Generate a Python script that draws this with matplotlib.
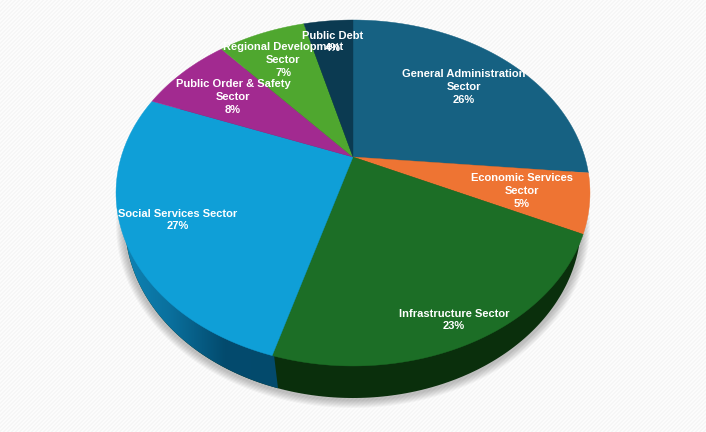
import numpy as np
from matplotlib import pyplot as plt
from matplotlib.colors import LinearSegmentedColormap
from matplotlib.patches import Polygon

plt.rcParams['font.family'] = ['Liberation Sans', 'DejaVu Sans']

sectors = ["General Administration\nSector", "Economic Services\nSector", "Infrastructure Sector",
           "Social Services Sector", "Public Order & Safety\nSector", "Regional Development\nSector", "Public Debt"]
shares = [26.5, 5.5, 22.5, 26.4, 7.7, 7.3, 4.1]
percents = ["26%", "5%", "23%", "27%", "8%", "7%", "4%"]
colors = ["#166182", "#ee7433", "#1c6e26", "#0f9fd7", "#a22a90", "#4fa72f", "#0b3a51"]
label_x = [464, 522, 454, 178, 233, 283, 333]
label_y = [87, 191, 320, 220, 97, 60, 42]

W, H = 706, 432
APEX = (353, 157)
A, B, K = 231.8, 165.5, -0.208


def rim(theta):
    # circle seen in perspective, so the apex sits above the middle of the ellipse
    x = np.sin(theta)
    y = -np.cos(theta)
    d = 1 + K * y
    return APEX[0] + A * x / d, APEX[1] + B * y / d


def ellipse(cx, cy, rx, ry, t=None):
    if t is None:
        t = np.linspace(0, 2 * np.pi, 360)
    return np.column_stack([cx + rx * np.cos(t), cy + ry * np.sin(t)])


fig = plt.figure(figsize=(W / 100, H / 100), dpi=100)
ax = fig.add_axes([0, 0, 1, 1])
ax.set_xlim(0, W)
ax.set_ylim(H, 0)
ax.axis("off")

# faint diagonal stripes behind the chart
yy, xx = np.mgrid[0:H, 0:W]
stripes = 0.962 + 0.026 * (((xx + yy) % 4) < 2)
ax.imshow(stripes, cmap="gray", vmin=0, vmax=1, extent=(0, W, H, 0), zorder=0, interpolation="nearest", aspect="auto")

# soft shadow under the pie
for i in range(8):
    grow = 8 - i
    ax.add_patch(Polygon(ellipse(353, 225, 229 + grow, 175 + grow), color="#000000", alpha=0.03, lw=0, zorder=1))

# side wall: lower ellipse, dark green with the blue part on top of it
cuts = 2 * np.pi * np.cumsum([0] + shares) / sum(shares)
ax.add_patch(Polygon(ellipse(353, 223, 228, 175), color="#0a2f0c", lw=0, zorder=2))

blue_wall = LinearSegmentedColormap.from_list("wall", ["#0f86b8", "#0a6f9c", "#034b6e", "#044a6c"])
arc = np.linspace(np.arccos(-75 / 228), np.pi + 0.3, 120)
left_pts = np.vstack([ellipse(353, 223, 228, 175, arc), [[274, 355]]])
left = ax.add_patch(Polygon(left_pts, color="none", lw=0, zorder=2))
grad = np.linspace(0, 1, 200).reshape(1, -1)
img = ax.imshow(grad, cmap=blue_wall, extent=(118, 278, 420, 150), zorder=3, aspect="auto")
img.set_clip_path(left)

# top surface, one wedge per share
for i, clr in enumerate(colors):
    t = np.linspace(cuts[i], cuts[i + 1], 120)
    x, y = rim(t)
    pts = np.column_stack([np.r_[APEX[0], x], np.r_[APEX[1], y]])
    ax.add_patch(Polygon(pts, facecolor=clr, edgecolor=clr, lw=0.3, zorder=4))

for name, pct, x, y in zip(sectors, percents, label_x, label_y):
    ax.text(x, y, name + "\n" + pct, color="white", fontsize=8.0, fontweight="bold", ha="center", va="center",
            linespacing=1.32, zorder=5)

fig.savefig("out.png", dpi=100)
